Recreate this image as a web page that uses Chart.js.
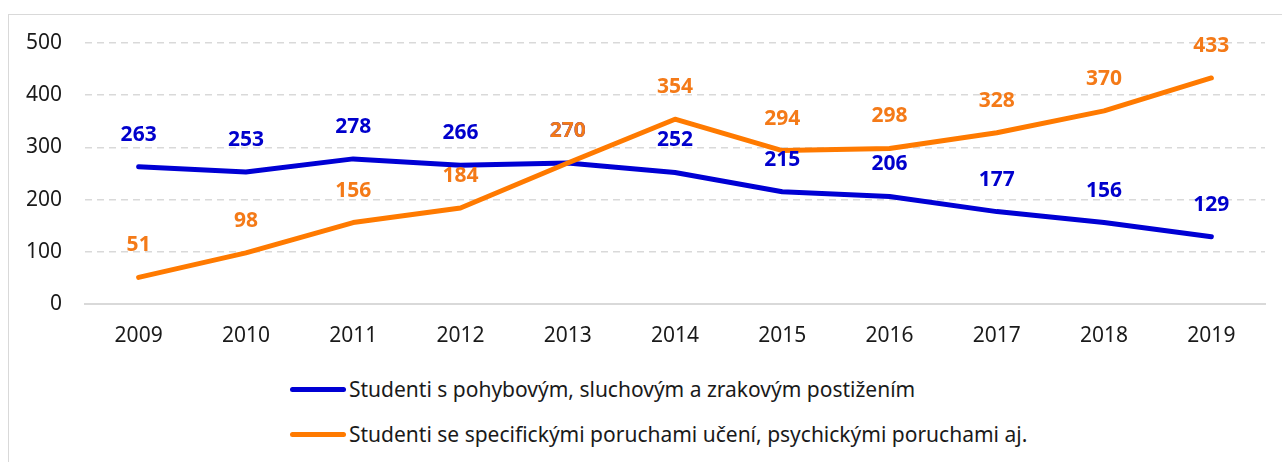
<!DOCTYPE html>
<html>
<head>
<meta charset="utf-8">
<script src="https://cdn.jsdelivr.net/npm/chart.js@4.4.0/dist/chart.umd.min.js"></script>
<style>
  html, body { margin: 0; padding: 0; background: #fff; overflow: hidden; }
  body { width: 1282px; height: 462px; position: relative; font-family: "Noto Sans", sans-serif; }
  #frame { position: absolute; left: 8px; top: 14px; width: 1300px; height: 480px; border: 1px solid #d9d9d9; }
  #wrap { position: absolute; left: 0; top: 0; width: 1282px; height: 370px; }
  #legend { position: absolute; left: 290px; top: 375px; }
  .item { position: absolute; left: 0; white-space: nowrap; display: flex; align-items: center; font-size: 21px; line-height: 28px; color: #1a1a1a; }
  .swatch { width: 56px; height: 5px; border-radius: 3px; margin-right: 3px; }
</style>
</head>
<body>
<div id="frame"></div>
<div id="wrap"><canvas id="myChart"></canvas></div>
<div id="legend"></div>
<script>
// data
const years = ['2009', '2010', '2011', '2012', '2013', '2014', '2015', '2016', '2017', '2018', '2019'];
const pohybovi = [263, 253, 278, 266, 270, 252, 215, 206, 177, 156, 129];
const poruchy = [51, 98, 156, 184, 270, 354, 294, 298, 328, 370, 433];
const seriesNames = [
    'Studenti s pohybovým, sluchovým a zrakovým postižením',
    'Studenti se specifickými poruchami učení, psychickými poruchami aj.'
];
const lineColors = ['#0000d4', '#ff7a00'];
const labelColors = ['#0000cc', '#f47a18'];

const fontFamily = '"Noto Sans", sans-serif';

// popisky hodnot nad body
const valueLabels = {
    id: 'valueLabels',
    afterDatasetsDraw(chart) {
        const ctx = chart.ctx;
        ctx.save();
        ctx.font = 'bold 21px ' + fontFamily;
        ctx.textAlign = 'center';
        ctx.textBaseline = 'middle';
        chart.data.datasets.forEach((ds, i) => {
            const meta = chart.getDatasetMeta(i);
            ctx.fillStyle = labelColors[i];
            meta.data.forEach((pt, j) => {
                ctx.fillText(ds.data[j], pt.x, pt.y - 32);
            });
        });
        ctx.restore();
    }
};

const ctx = document.getElementById('myChart').getContext('2d');
new Chart(ctx, {
    type: 'line',
    data: {
        labels: years,
        datasets: [{
            label: seriesNames[0],
            data: pohybovi,
            borderColor: lineColors[0],
            backgroundColor: lineColors[0],
            borderWidth: 5,
            pointRadius: 0,
            tension: 0,
            borderCapStyle: 'round',
            borderJoinStyle: 'round',
            order: 2
        }, {
            label: seriesNames[1],
            data: poruchy,
            borderColor: lineColors[1],
            backgroundColor: lineColors[1],
            borderWidth: 5,
            pointRadius: 0,
            tension: 0,
            borderCapStyle: 'round',
            borderJoinStyle: 'round',
            order: 1
        }]
    },
    options: {
        responsive: true,
        maintainAspectRatio: false,
        animation: false,
        layout: { padding: { left: 0, right: 17, top: 43, bottom: 0 } },
        plugins: {
            legend: { display: false },
            tooltip: { enabled: false }
        },
        scales: {
            x: {
                offset: true,
                grid: { display: false, drawTicks: false },
                border: { display: true, color: '#d9d9d9', width: 2 },
                ticks: {
                    color: '#1a1a1a',
                    padding: 19,
                    font: { family: fontFamily, size: 21 }
                },
                afterFit: s => { s.height = 66; }
            },
            y: {
                min: 0,
                max: 500,
                grid: { color: '#d9d9d9', lineWidth: 1.5, drawTicks: false },
                border: { display: false, dash: [7, 5] },
                ticks: {
                    stepSize: 100,
                    color: '#1a1a1a',
                    padding: 23,
                    font: { family: fontFamily, size: 21 }
                },
                afterFit: s => { s.width = 85; }
            }
        }
    },
    plugins: [valueLabels]
});

// legenda pod grafem
const legend = document.getElementById('legend');
seriesNames.forEach((name, i) => {
    const item = document.createElement('div');
    item.className = 'item';
    item.style.top = (i * 45) + 'px';
    const sw = document.createElement('span');
    sw.className = 'swatch';
    sw.style.background = lineColors[i];
    const txt = document.createElement('span');
    txt.textContent = name;
    item.appendChild(sw);
    item.appendChild(txt);
    legend.appendChild(item);
});
</script>
</body>
</html>
